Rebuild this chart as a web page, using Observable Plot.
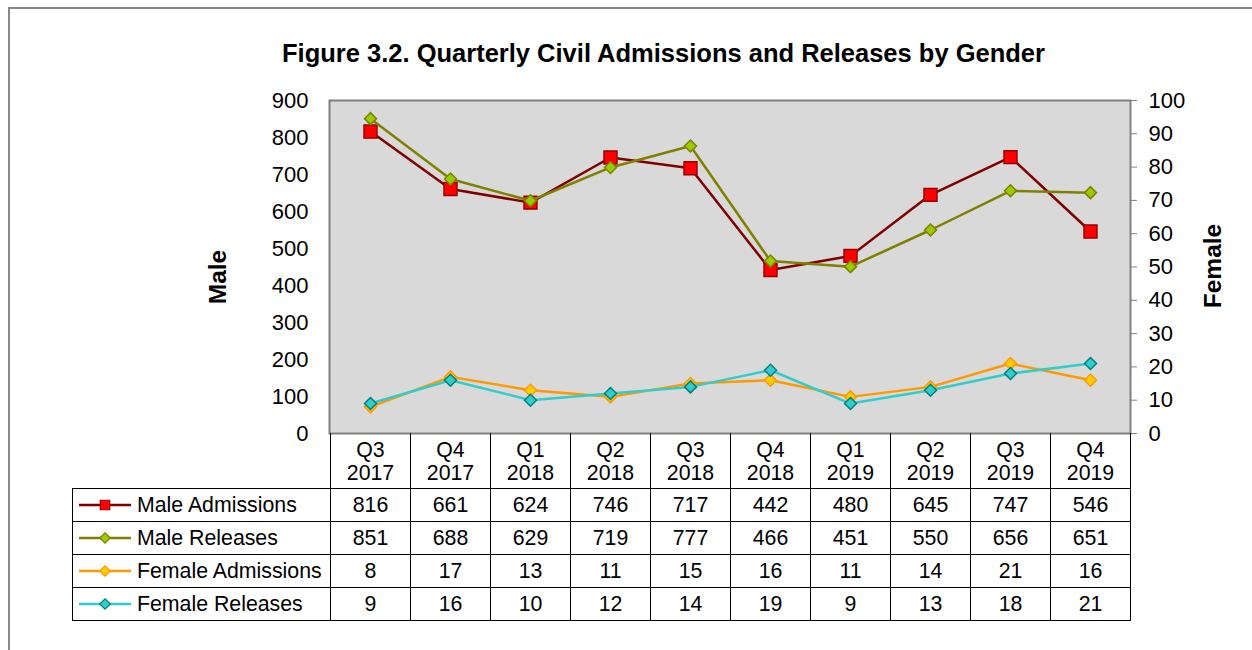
<!DOCTYPE html>
<html>
<head>
<meta charset="utf-8">
<script src="https://cdn.jsdelivr.net/npm/d3@7"></script>
<script src="https://cdn.jsdelivr.net/npm/@observablehq/plot@0.6"></script>
<style>
  html, body { margin: 0; padding: 0; background: #fff; }
  body { width: 1252px; height: 650px; position: relative; overflow: hidden; font-family: "Liberation Sans", Arial, sans-serif; }
  #frame { position: absolute; left: 8px; top: 7px; width: 1260px; height: 660px; border: 2px solid #888; box-sizing: border-box; }
  #title { position: absolute; left: 0; width: 1327px; top: 39px; text-align: center; font-weight: bold; font-size: 25.5px; color: #000; }
  #chart { position: absolute; left: 0; top: 0; }
  .ylab { position: absolute; font-weight: bold; font-size: 24.5px; transform: rotate(-90deg); transform-origin: center; white-space: nowrap; }
  .cell { position: absolute; box-sizing: border-box; font-size: 21.3px; color: #000; text-align: center; display: flex; align-items: center; justify-content: center; line-height: 1.05; }
  .hcell { padding-top: 2px; }
  .lcell { justify-content: flex-start; }
</style>
</head>
<body>
<div id="frame"></div>
<div id="chart"></div>
<div id="title">Figure 3.2. Quarterly Civil Admissions and Releases by Gender</div>
<div id="table"></div>
<script>
const quarters = ["Q3 2017","Q4 2017","Q1 2018","Q2 2018","Q3 2018","Q4 2018","Q1 2019","Q2 2019","Q3 2019","Q4 2019"];
const maleAdmissions   = [816, 661, 624, 746, 717, 442, 480, 645, 747, 546];
const maleReleases     = [851, 688, 629, 719, 777, 466, 451, 550, 656, 651];
const femaleAdmissions = [8, 17, 13, 11, 15, 16, 11, 14, 21, 16];
const femaleReleases   = [9, 16, 10, 12, 14, 19, 9, 13, 18, 21];
const maleTicks   = [0,100,200,300,400,500,600,700,800,900];
const femaleTicks = [0,10,20,30,40,50,60,70,80,90,100];

const ratio = 900 / 100; // right axis (female) 0-100 mapped onto left axis 0-900

const series = [
  {name: "Male Admissions",   values: maleAdmissions,   k: 1,     line: "#800000", fill: "#FF0000", stroke: "#990000", symbol: "square",   r: 7.3},
  {name: "Male Releases",     values: maleReleases,     k: 1,     line: "#808000", fill: "#99CC00", stroke: "#808000", symbol: "diamond2", r: 5.4},
  {name: "Female Admissions", values: femaleAdmissions, k: ratio, line: "#FF9900", fill: "#FFCC00", stroke: "#FF9900", symbol: "diamond2", r: 5.4},
  {name: "Female Releases",   values: femaleReleases,   k: ratio, line: "#33CCCC", fill: "#33CCCC", stroke: "#008080", symbol: "diamond2", r: 5.4}
];

const marks = [
  Plot.frame({fill: "#D9D9D9", stroke: "#808080", strokeWidth: 2}),
  Plot.axisY({ticks: maleTicks, tickSize: 0, tickPadding: 21, fontSize: 22, label: null, anchor: "left"}),
  Plot.axisY({ticks: femaleTicks.map(d => d * ratio), tickFormat: d => String(Math.round(d / ratio)), tickSize: 6, tickPadding: 12, fontSize: 22, label: null, anchor: "right", stroke: "#808080", textStroke: "none"})
];
for (const s of series) {
  const data = quarters.map((q, i) => ({q, v: s.values[i] * s.k}));
  marks.push(Plot.line(data, {x: "q", y: "v", stroke: s.line, strokeWidth: 2.5}));
  marks.push(Plot.dot(data, {x: "q", y: "v", symbol: s.symbol, r: s.r, fill: s.fill, stroke: s.stroke, strokeWidth: 1.5}));
}

const plot = Plot.plot({
  width: 1252,
  height: 434,
  marginLeft: 329,
  marginRight: 122,
  marginTop: 100,
  marginBottom: 1,
  style: {fontFamily: "'Liberation Sans', Arial, sans-serif", fontSize: "22px", color: "#000", background: "transparent", overflow: "visible"},
  x: {type: "band", domain: quarters, padding: 0, axis: null},
  y: {domain: [0, 900], axis: null},
  marks
});
document.getElementById("chart").appendChild(plot);

// axis titles
function addLab(text, cx, cy) {
  const d = document.createElement("div");
  d.className = "ylab";
  d.textContent = text;
  document.body.appendChild(d);
  const w = d.offsetWidth, h = d.offsetHeight;
  d.style.left = (cx - w / 2) + "px";
  d.style.top = (cy - h / 2) + "px";
}
addLab("Male", 218, 277);
addLab("Female", 1213, 266);

// data table aligned with Plot's x band scale
const xs = plot.scale("x");
const bw = xs.bandwidth;
const tbl = document.getElementById("table");
const headTop = 433, headH = 55, rowH = 33, leftX = 72;
const x0 = xs.apply(quarters[0]);
function cell(x, y, w, h, html, cls, borders) {
  const d = document.createElement("div");
  d.className = "cell" + (cls ? " " + cls : "");
  Object.assign(d.style, {left: x + "px", top: y + "px", width: w + "px", height: h + "px"});
  d.style.borderLeft = borders.l ? "1px solid #000" : "none";
  d.style.borderRight = borders.r ? "1px solid #000" : "none";
  d.style.borderTop = borders.t ? "1px solid #000" : "none";
  d.style.borderBottom = borders.b ? "1px solid #000" : "none";
  if (typeof html === "string") d.innerHTML = html; else d.appendChild(html);
  tbl.appendChild(d);
  return d;
}
quarters.forEach((q) => {
  const [a, b] = q.split(" ");
  cell(xs.apply(q), headTop, bw + 1, headH, a + "<br>" + b, "hcell", {l: true, r: true, t: false, b: false});
});
series.forEach((s, r) => {
  const y = headTop + headH + r * rowH;
  const wrap = document.createElement("div");
  wrap.style.display = "flex"; wrap.style.alignItems = "center";
  const svg = d3.create("svg").attr("width", 52).attr("height", 20).style("margin-left", "6px").style("margin-right", "6px");
  svg.append("line").attr("x1", 0).attr("x2", 52).attr("y1", 10).attr("y2", 10).attr("stroke", s.line).attr("stroke-width", 2.5);
  const sym = s.symbol === "square" ? d3.symbolSquare : d3.symbolDiamond2;
  const size = s.symbol === "square" ? 90 : 70;
  svg.append("path").attr("d", d3.symbol(sym, size)()).attr("transform", "translate(26,10)").attr("fill", s.fill).attr("stroke", s.stroke).attr("stroke-width", 1.2);
  wrap.appendChild(svg.node());
  const t = document.createElement("span"); t.textContent = s.name; wrap.appendChild(t);
  cell(leftX, y, x0 - leftX + 1, rowH + 1, wrap, "lcell", {l: true, r: false, t: true, b: true});
  quarters.forEach((q, i) => {
    cell(xs.apply(q), y, bw + 1, rowH + 1, String(s.values[i]), "", {l: true, r: true, t: true, b: true});
  });
});
</script>
</body>
</html>
